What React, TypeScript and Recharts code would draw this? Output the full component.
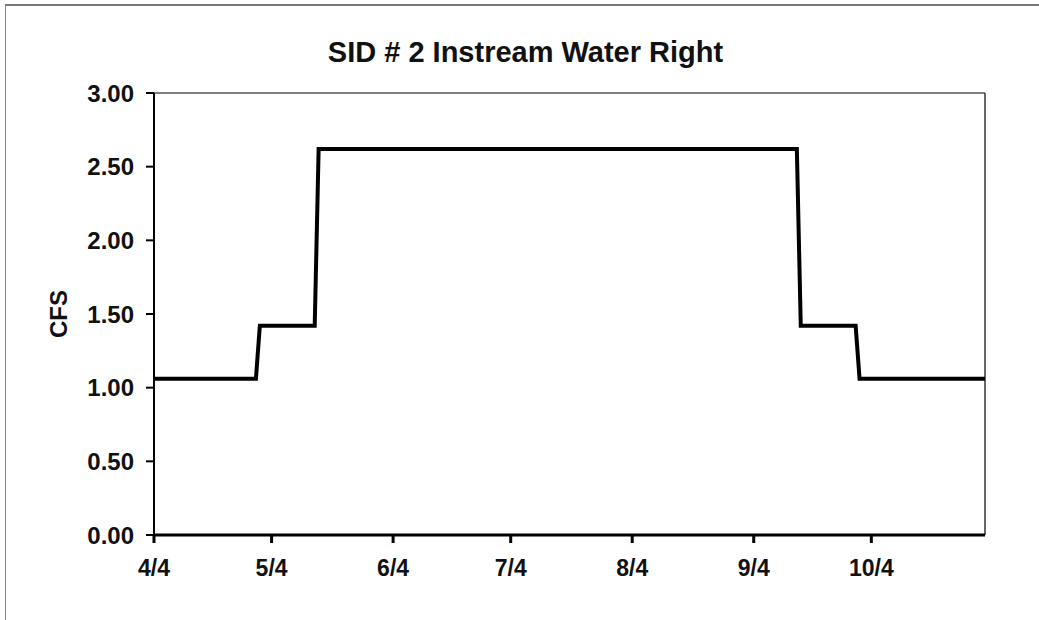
import { LineChart, Line, XAxis, YAxis, ReferenceLine } from "recharts";

// day offsets from 4/4 and the matching dates
const dates = ["4/4", "4/30", "5/1", "5/15", "5/16", "9/15", "9/16", "9/30", "10/1", "11/2"];
const days = [0, 26, 27, 41, 42, 164, 165, 179, 180, 212];
const cfs = [1.06, 1.06, 1.42, 1.42, 2.62, 2.62, 1.42, 1.42, 1.06, 1.06];

const tickDays = [0, 30, 61, 91, 122, 153, 183];
const tickLabels = ["4/4", "5/4", "6/4", "7/4", "8/4", "9/4", "10/4"];
const yTicks = [0, 0.5, 1, 1.5, 2, 2.5, 3];

const data = days.map((d, i) => ({ day: d, date: dates[i], cfs: cfs[i] }));

const font = "'Liberation Sans', Arial, sans-serif";

export default function App() {
  return (
    <div style={{ position: "absolute", left: 0, top: 0, width: 1039, height: 620, background: "#fff", fontFamily: font }}>
      {/* scanned page frame */}
      <div style={{ position: "absolute", left: 5, top: 4, right: 0, bottom: 0, borderTop: "2px solid #777", borderLeft: "1.5px solid #888" }} />
      <div style={{
        position: "absolute", left: 0, width: 1039, top: 36, textAlign: "center",
        fontSize: 29, fontWeight: 700, color: "#111", lineHeight: "normal",
      }}>
        <span style={{ position: "relative", left: 6 }}>SID # 2 Instream Water Right</span>
      </div>
      <LineChart
        width={1039}
        height={620}
        data={data}
        margin={{ top: 93, right: 54, bottom: 35, left: 80 }}
        style={{ position: "absolute", left: 0, top: 0 }}
      >
        <XAxis
          dataKey="day"
          type="number"
          domain={[0, 212]}
          ticks={tickDays}
          tickFormatter={(v: number) => tickLabels[tickDays.indexOf(v)] ?? ""}
          height={50}
          stroke="#000"
          strokeWidth={3}
          tickSize={8}
          tickMargin={17}
          tick={{ fill: "#111", fontSize: 23, fontWeight: 700, fontFamily: font }}
          interval={0}
        />
        <YAxis
          type="number"
          domain={[0, 3]}
          ticks={yTicks}
          tickFormatter={(v: number) => v.toFixed(2)}
          width={74}
          stroke="#000"
          strokeWidth={2}
          tickSize={8}
          tickMargin={12}
          tick={{ fill: "#111", fontSize: 24, fontWeight: 700, fontFamily: font }}
          interval={0}
          label={{
            value: "CFS",
            angle: -90,
            position: "insideLeft",
            offset: -22,
            style: { fill: "#111", fontSize: 24, fontWeight: 700, fontFamily: font, textAnchor: "middle" },
          }}
        />
        <ReferenceLine y={3} stroke="#555" strokeWidth={1.5} ifOverflow="extendDomain" />
        <ReferenceLine x={212} stroke="#333" strokeWidth={1.5} />
        <Line
          type="linear"
          dataKey="cfs"
          stroke="#000"
          strokeWidth={4}
          dot={false}
          isAnimationActive={false}
        />
      </LineChart>
    </div>
  );
}
